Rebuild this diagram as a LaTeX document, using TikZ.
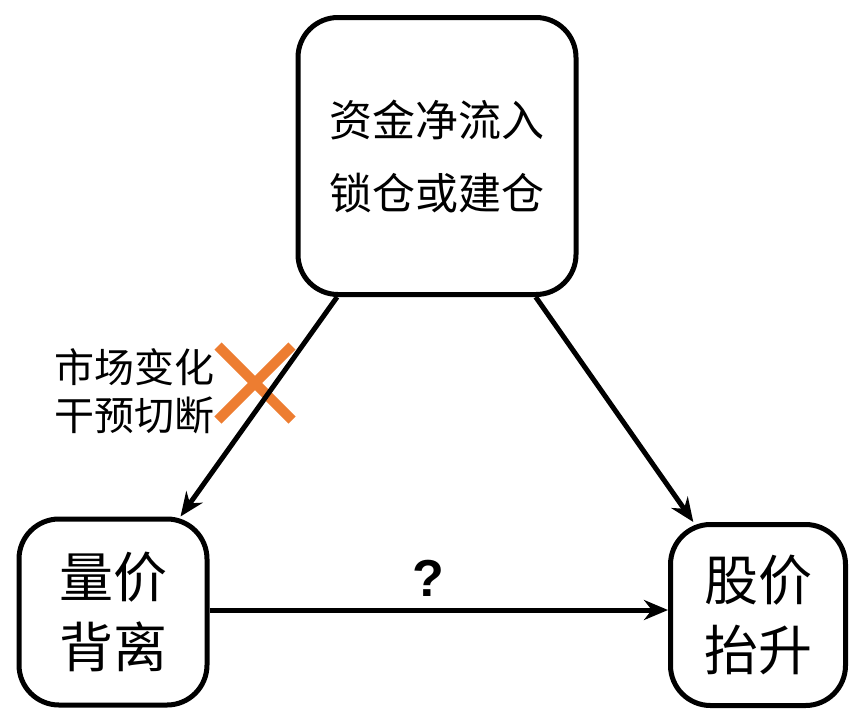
\documentclass[tikz,border=0pt]{standalone}
\usepackage{fontspec}
\setmainfont{Noto Sans CJK SC}
\newfontfamily\qfont{Liberation Sans}
\usetikzlibrary{shapes.misc,arrows.meta}
\definecolor{cutorange}{RGB}{237,125,49}
\begin{document}
\begin{tikzpicture}[x=1pt,y=-1pt]
        \tikzstyle{box} = [rectangle, rounded corners=40pt, draw=black, line width=5pt, align=center, text centered, inner sep=0pt]
        \tikzstyle{arrow} = [line width=5pt,->,>={Stealth[length=24pt,width=20pt]}]
        \useasboundingbox (0,0) rectangle (864,720);

                \node (fund) [box, minimum width=278pt, minimum height=277pt, font=\fontsize{43}{73}\selectfont] at (437,156) {资金净流入\\锁仓或建仓};
                \node (diverge) [box, minimum width=188pt, minimum height=186pt, font=\fontsize{54}{70}\selectfont] at (113,612) {量价\\背离};
                \node (rise) [box, minimum width=175pt, minimum height=181pt, font=\fontsize{54}{70}\selectfont] at (758,615) {股价\\抬升};
                \node (cause) [anchor=east, align=right, inner sep=0pt, font=\fontsize{40}{48}\selectfont] at (215,391) {市场变化\\干预切断};
                \node (cut) [cross out, draw=cutorange, line width=10pt, minimum size=64pt, inner sep=0pt] at (255,383) {};
                \node (q) [font=\qfont\bfseries\fontsize{52}{60}\selectfont] at (428,578) {?};

                \draw[arrow] (fund) -- (diverge);
                \draw[arrow] (fund) -- (rise);
                \draw[arrow] (diverge.east |- 0,610) -- (rise.west |- 0,610);

    \end{tikzpicture}
\end{document}
